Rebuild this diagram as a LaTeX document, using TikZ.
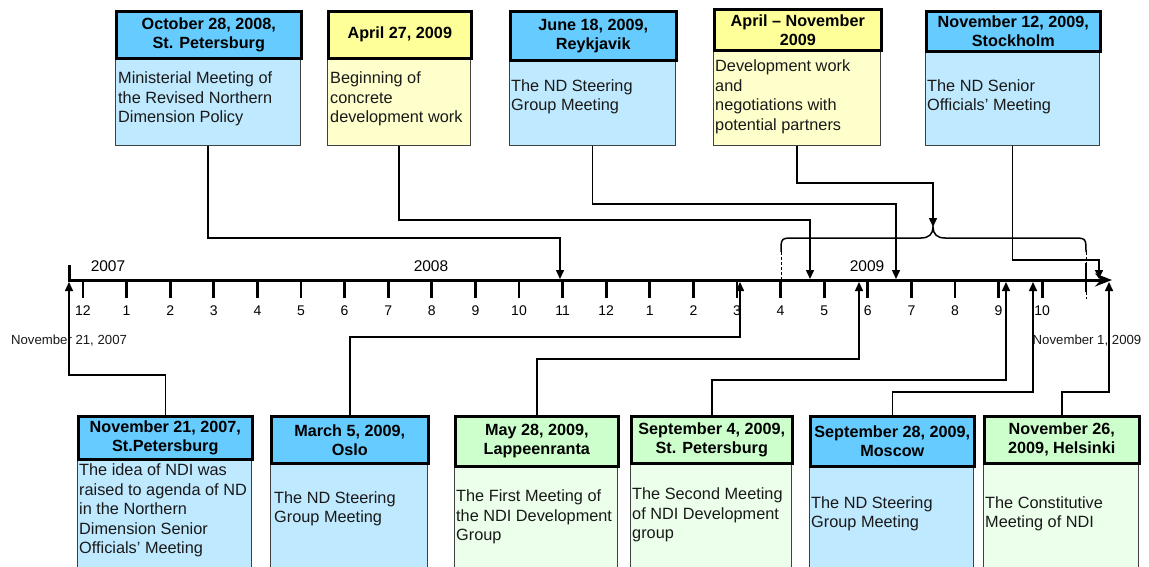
\documentclass[tikz,border=0pt]{standalone}
\usepackage{fontspec}
\setmainfont{Liberation Sans}
\usetikzlibrary{arrows.meta}
\definecolor{hblue}{HTML}{66CCFF}
\definecolor{bblue}{HTML}{BFE9FF}
\definecolor{hyel}{HTML}{FFFF99}
\definecolor{byel}{HTML}{FFFFCC}
\definecolor{hgrn}{HTML}{CCFFCC}
\definecolor{bgrn}{HTML}{EBFFEB}
\tikzset{
  hdr/.style={draw=black, line width=2.6pt, font=\bfseries\fontsize{16.2}{19}\selectfont, align=center, inner sep=0pt, anchor=north west},
  bdy/.style={draw=black!75, line width=1.4pt, inner sep=0pt, anchor=north west},
  txt/.style={font=\fontsize{16.3}{19.5}\selectfont, align=left, inner sep=0pt, anchor=west, text=black!90},
  conn/.style={line width=1.5pt, -{Triangle[length=9pt,width=8pt]}},
  axisline/.style={line width=3pt, -{Stealth[length=17pt,width=13pt,inset=6pt]}},
  tickmark/.style={line width=2.8pt},
  monthlbl/.style={font=\fontsize{14}{16}\selectfont, inner sep=0pt},
  yearlbl/.style={font=\fontsize{15.5}{18}\selectfont, inner sep=0pt},
  datelbl/.style={font=\fontsize{13.2}{15}\selectfont, inner sep=0pt, text=black!90}
}
\begin{document}
\begin{tikzpicture}[x=1pt,y=-1pt]
\clip (0,0) rectangle (1149,567);
\fill[white] (0,0) rectangle (1149,567);

% ---------- top boxes ----------
\node[bdy, fill=bblue, minimum width=185pt, minimum height=88pt] (tb1) at (115,57) {};
\node[hdr, fill=hblue, minimum width=185pt, minimum height=47pt] (th1) at (115,10) {October 28, 2008,\\St. Petersburg};
\node[txt] (tt1) at (118,99) {Ministerial Meeting of\\the Revised Northern\\Dimension Policy};

\node[bdy, fill=byel, minimum width=143pt, minimum height=88pt] (tb2) at (327,57) {};
\node[hdr, fill=hyel, minimum width=143pt, minimum height=47pt] (th2) at (327,10) {April 27, 2009};
\node[txt] (tt2) at (330,99) {Beginning of\\concrete\\development work};

\node[bdy, fill=bblue, minimum width=166pt, minimum height=86pt] (tb3) at (509,59) {};
\node[hdr, fill=hblue, minimum width=166pt, minimum height=49pt] (th3) at (509,10) {June 18, 2009,\\Reykjavik};
\node[txt] (tt3) at (511,97) {The ND Steering\\Group Meeting};

\node[bdy, fill=byel, minimum width=167pt, minimum height=96pt] (tb4) at (713,49) {};
\node[hdr, fill=hyel, minimum width=167pt, minimum height=41pt] (th4) at (713,8) {April -- November\\2009};
\node[txt] (tt4) at (715,97) {Development work\\and\\negotiations with\\potential partners};

\node[bdy, fill=bblue, minimum width=174pt, minimum height=95pt] (tb5) at (925,50) {};
\node[hdr, fill=hblue, minimum width=174pt, minimum height=40pt] (th5) at (925,10) {November 12, 2009,\\Stockholm};
\node[txt] (tt5) at (927,97) {The ND Senior\\Officials’ Meeting};

% ---------- bottom boxes ----------
\node[bdy, fill=bblue, minimum width=174pt, minimum height=122pt] (bb1) at (77,458) {};
\node[hdr, fill=hblue, minimum width=174pt, minimum height=43pt] (bh1) at (77,415) {November 21, 2007,\\St.Petersburg};
\node[txt] (bt1) at (79,510.5) {The idea of NDI was\\raised to agenda of ND\\in the Northern\\Dimension Senior\\Officials’ Meeting};

\node[bdy, fill=bblue, minimum width=157pt, minimum height=118pt] (bb2) at (270,462) {};
\node[hdr, fill=hblue, minimum width=157pt, minimum height=47pt] (bh2) at (270,415) {March 5, 2009,\\Oslo};
\node[txt] (bt2) at (274,509) {The ND Steering\\Group Meeting};

\node[bdy, fill=bgrn, minimum width=163pt, minimum height=115pt] (bb3) at (454,465) {};
\node[hdr, fill=hgrn, minimum width=163pt, minimum height=50pt] (bh3) at (454,415) {May 28, 2009,\\Lappeenranta};
\node[txt] (bt3) at (456,517) {The First Meeting of\\the NDI Development\\Group};

\node[bdy, fill=bgrn, minimum width=161pt, minimum height=118pt] (bb4) at (630,462) {};
\node[hdr, fill=hgrn, minimum width=161pt, minimum height=47pt] (bh4) at (630,415) {September 4, 2009,\\St. Petersburg};
\node[txt] (bt4) at (632,515) {The Second Meeting\\of NDI Development\\group};

\node[bdy, fill=bblue, minimum width=164pt, minimum height=115pt] (bb5) at (809,465) {};
\node[hdr, fill=hblue, minimum width=164pt, minimum height=50pt] (bh5) at (809,415) {September 28, 2009,\\Moscow};
\node[txt] (bt5) at (811,514) {The ND Steering\\Group Meeting};

\node[bdy, fill=bgrn, minimum width=155pt, minimum height=118pt] (bb6) at (983,462) {};
\node[hdr, fill=hgrn, minimum width=155pt, minimum height=47pt] (bh6) at (983,415) {November 26,\\2009, Helsinki};
\node[txt] (bt6) at (985,514) {The Constitutive\\Meeting of NDI};

% ---------- axis ----------
\coordinate (ax0) at (69,280);
\coordinate (ax1) at (1112,280);
\draw[axisline] (ax0) -- (ax1);
\draw[line width=3pt] (69,265) -- (69,282);
\foreach \m [count=\i from 0] in {12,1,2,3,4,5,6,7,8,9,10,11,12,1,2,3,4,5,6,7,8,9,10} {
  \draw[tickmark] ({83+\i*43.6},280) -- ({83+\i*43.6},298);
  \node[monthlbl] (m\i) at ({83+\i*43.6},311) {\m};
}
\draw[line width=0.8pt, dash pattern=on 3pt off 2pt] (1086,252) -- (1086,299);
\draw[line width=0.8pt, dash pattern=on 3pt off 2pt] (781,252) -- (781,282);
\draw[tickmark] (1086,263) -- (1086,292);

\node[yearlbl] (y7) at (108,266) {2007};
\node[yearlbl] (y8) at (431,266) {2008};
\node[yearlbl] (y9) at (867,266) {2009};
\node[datelbl] (d1) at (69,341) {November 21, 2007};
\node[datelbl] (d2) at (1087,341) {November 1, 2009};

% ---------- brace ----------
\coordinate (btip) at (933,227);
\draw[line width=1.5pt] (781,252) .. controls (781,238) .. (795,238) -- (921,238)
  .. controls (929,238) and (933,234) .. (btip)
  .. controls (933,234) and (937,238) .. (945,238) -- (1072,238)
  .. controls (1086,238) .. (1086,252);

% ---------- top connectors ----------
\coordinate (k1) at (560,238); \coordinate (a1) at (560,279);
\coordinate (k2) at (810,220); \coordinate (a2) at (810,279);
\coordinate (k3) at (896,204); \coordinate (a3) at (896,279);
\coordinate (k4) at (933,183);
\coordinate (k5) at (1099,260); \coordinate (a5) at (1099,279);
\draw[conn] (tb1.south) |- (k1) -- (a1);
\draw[conn] (tb2.south) |- (k2) -- (a2);
\draw[conn] (tb3.south) |- (k3) -- (a3);
\draw[conn] (tb4.south) |- (k4) -- (btip);
\draw[conn] (tb5.south) |- (k5) -- (a5);

% ---------- bottom connectors ----------
\coordinate (q1) at (69,375);   \coordinate (c1) at (69,282);
\coordinate (q2) at (740,337);  \coordinate (c2) at (740,282);
\coordinate (q3) at (859,359);  \coordinate (c3) at (859,282);
\coordinate (q4) at (1006,380); \coordinate (c4) at (1006,282);
\coordinate (q5) at (1033,392); \coordinate (c5) at (1033,282);
\coordinate (q6) at (1109,392); \coordinate (c6) at (1109,282);
\draw[conn] (bh1.north) |- (q1) -- (c1);
\draw[conn] (bh2.north) |- (q2) -- (c2);
\draw[conn] (bh3.north) |- (q3) -- (c3);
\draw[conn] (bh4.north) |- (q4) -- (c4);
\draw[conn] (bh5.north) |- (q5) -- (c5);
\draw[conn] (bh6.north) |- (q6) -- (c6);
\end{tikzpicture}
\end{document}
